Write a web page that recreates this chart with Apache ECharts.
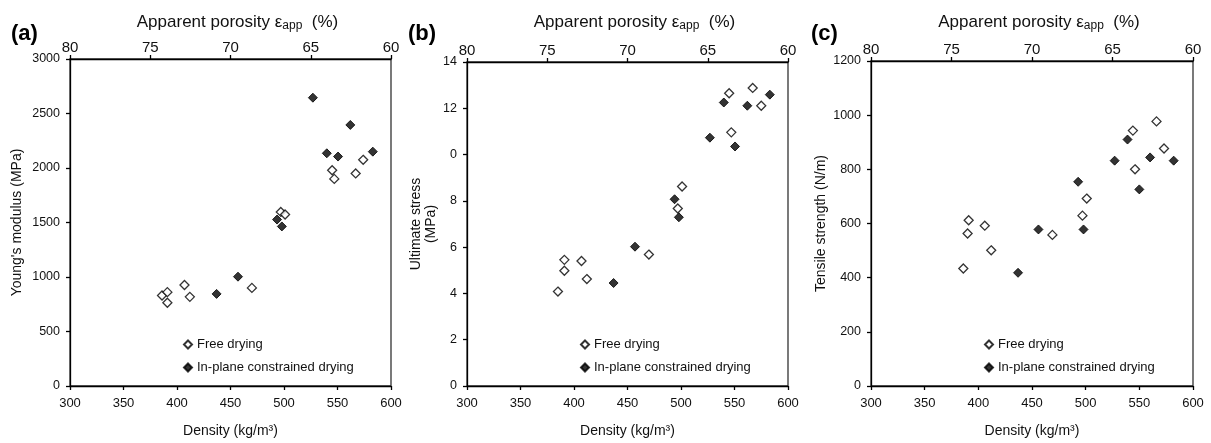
<!DOCTYPE html>
<html>
<head>
<meta charset="utf-8">
<script src="https://cdn.jsdelivr.net/npm/echarts@6/dist/echarts.min.js"></script>
<style>
html,body{margin:0;padding:0;background:#fff;}
#c{width:1211px;height:443px;}
</style>
</head>
<body>
<div id="c"></div>
<script>
// ---- data (density kg/m3, value) ----
const freeA = [[386,830],[391,861],[391,764],[407,927],[412,818],[470,900],[497,1597],[501,1573],[545,1979],[547,1900],[567,1950],[574,2075]];
const consA = [[437,845],[457,1003],[493.5,1527],[498,1464],[527,2645],[540,2135],[550.5,2105],[562,2395],[583,2150]];
const freeB = [[385,4.08],[391,5.45],[391,4.98],[407,5.40],[412,4.62],[470,5.68],[497,7.67],[501,8.62],[545,12.65],[547,10.96],[567,12.88],[575,12.11]];
const consB = [[437,4.45],[457,6.02],[494,8.07],[498,7.29],[527,10.73],[540,12.25],[550.5,10.35],[562,12.11],[583,12.59]];
const freeC = [[386,434],[390,563],[391,612],[406,592],[412,501],[469,558],[497,629],[501,692],[544,943],[546,800],[566,977],[573,877]];
const consC = [[437,418],[456,578],[493,754],[498,578],[527,832],[539,910],[550,726],[560,844],[582,832]];

const densityTicks = [300,350,400,450,500,550,600];
const porosityTicks = [80,75,70,65,60];
const yTicksA = ['0','500','1000','1500','2000','2500','3000'];
const yTicksB = ['0','2','4','6','8','0','12','14'];
const yTicksC = ['0','200','400','600','800','1000','1200'];
const seriesNames = ['Free drying','In-plane constrained drying'];
const panelLabels = ['(a)','(b)','(c)'];
const yNames = ["Young's modulus (MPa)", 'Ultimate stress\n(MPa)', 'Tensile strength (N/m)'];
const topTitle = 'Apparent porosity ε{s|app}  (%)';
const bottomName = 'Density (kg/m³)';

const FONT = '"Liberation Sans", Arial, sans-serif';
const grids = [
  {left:70, top:59, width:321, height:330},
  {left:467, top:62, width:321, height:326},
  {left:871, top:61, width:322, height:328}
];
const yCfg = [
  {max:3000, interval:500, labels:yTicksA, nameGap:45},
  {max:14, interval:2, labels:yTicksB, nameGap:28},
  {max:1200, interval:200, labels:yTicksC, nameGap:42}
];
const panelData = [[freeA,consA],[freeB,consB],[freeC,consC]];

const axisLine = {lineStyle:{color:'#000', width:1.3}};
const axisTick = {show:true, length:4, lineStyle:{color:'#000', width:1.3}};
const tickLabel = {color:'#111', fontFamily:FONT, fontSize:13};

const option = {
  animation:false,
  backgroundColor:'#fff',
  grid:[], xAxis:[], yAxis:[], series:[], title:[], legend:[]
};

grids.forEach((g,i)=>{
  option.grid.push(Object.assign({show:true, borderColor:'#333', borderWidth:1.3, backgroundColor:'transparent'}, g));
  option.xAxis.push({
    type:'value', gridIndex:i, position:'bottom', min:densityTicks[0], max:densityTicks[densityTicks.length-1], interval:50,
    axisLine, axisTick, splitLine:{show:false},
    axisLabel:Object.assign({margin:11}, tickLabel),
    name:bottomName, nameLocation:'middle', nameGap:38,
    nameTextStyle:{color:'#111', fontFamily:FONT, fontSize:14}
  });
  option.xAxis.push({
    type:'value', gridIndex:i, position:'top', min:60, max:80, interval:5, inverse:true,
    axisLine, axisTick, splitLine:{show:false},
    axisLabel:Object.assign({margin:4}, tickLabel, {fontSize:15})
  });
  const yc = yCfg[i];
  option.yAxis.push({
    type:'value', gridIndex:i, min:0, max:yc.max, interval:yc.interval,
    axisLine, axisTick, splitLine:{show:false},
    axisLabel:Object.assign({margin:10, formatter:(v)=>yc.labels[Math.round(v/yc.interval)]}, tickLabel, {fontSize:12.5}),
    name:yNames[i], nameLocation:'middle', nameGap:yc.nameGap, nameRotate:90,
    nameTextStyle:{color:'#111', fontFamily:FONT, fontSize:14, lineHeight:15}
  });
  const [fr, co] = panelData[i];
  option.series.push({
    name:seriesNames[0], type:'scatter', xAxisIndex:2*i, yAxisIndex:i, data:fr,
    symbol:'diamond', symbolSize:9,
    itemStyle:{color:'#fff', borderColor:'#000', borderWidth:1.3}
  });
  option.series.push({
    name:seriesNames[1], type:'scatter', xAxisIndex:2*i, yAxisIndex:i, data:co,
    symbol:'diamond', symbolSize:9,
    itemStyle:{color:'#000', borderColor:'#000', borderWidth:1}
  });
  const cx = g.left + g.width/2;
  option.title.push({
    text:topTitle, left:cx+2, top:8, textAlign:'center',
    textStyle:{color:'#111', fontFamily:FONT, fontSize:17, fontWeight:'normal',
      rich:{s:{fontSize:12, fontFamily:FONT, color:'#111', padding:[7,0,0,0]}}}
  });
  option.title.push({
    text:panelLabels[i], left:[6,403,806][i], top:18,
    textStyle:{color:'#000', fontFamily:FONT, fontSize:22, fontWeight:'bold'}
  });
  option.legend.push({
    data:seriesNames, orient:'vertical', left:g.left+108, top:333, itemGap:10,
    itemWidth:8, itemHeight:8, icon:'diamond',
    textStyle:{color:'#111', fontFamily:FONT, fontSize:13}
  });
});

const chart = echarts.init(document.getElementById('c'), null, {renderer:'canvas'});
chart.setOption(option);
</script>
</body>
</html>
